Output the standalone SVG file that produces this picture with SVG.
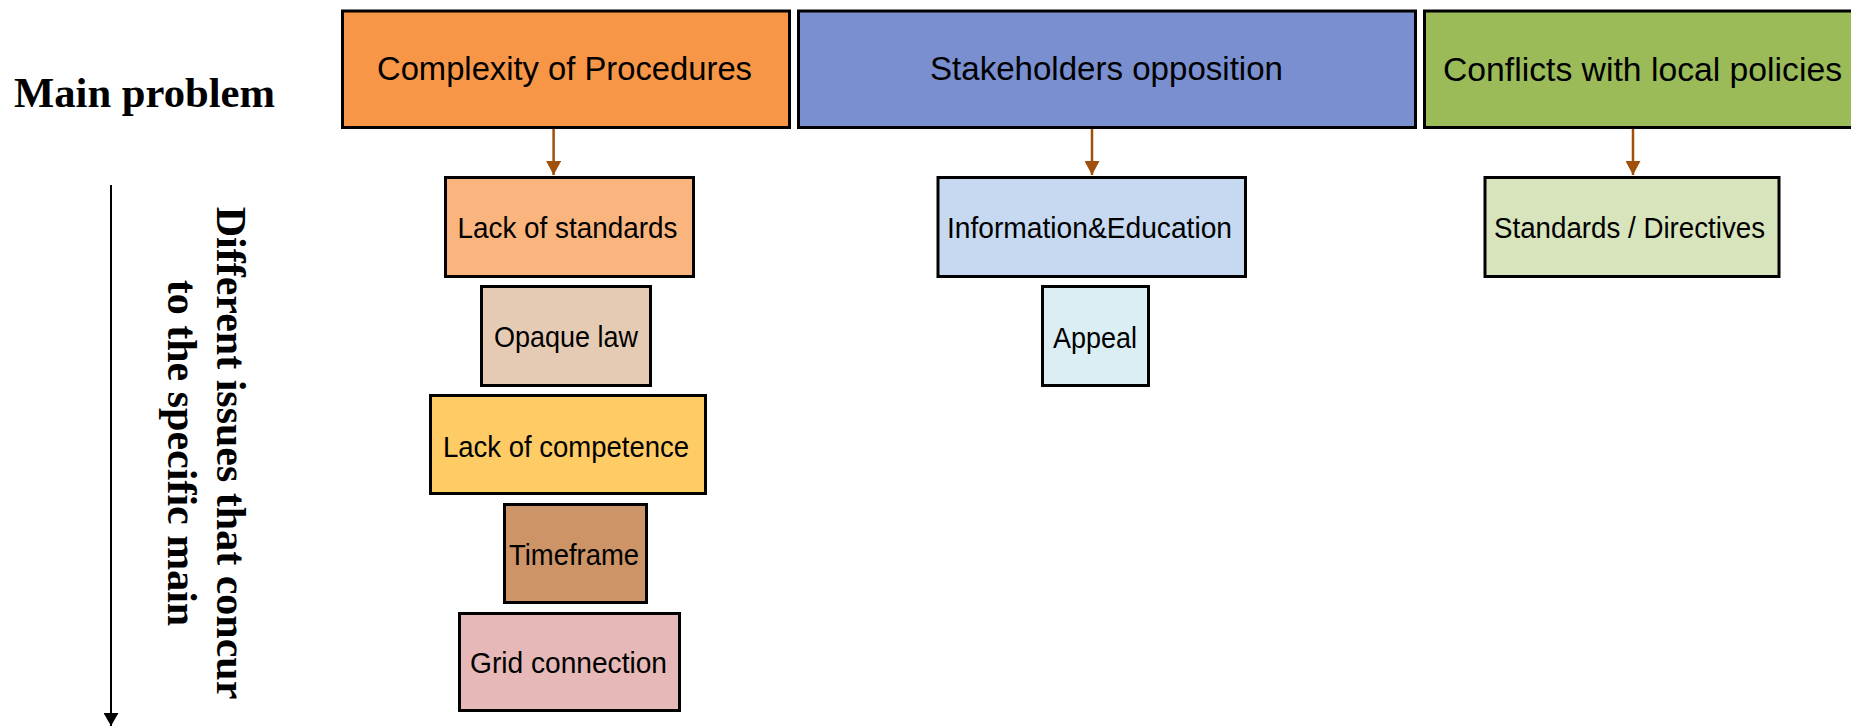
<svg xmlns="http://www.w3.org/2000/svg" width="1851" height="727" viewBox="0 0 1851 727">
<style>
.box{stroke:#000;stroke-width:3}
.h{font-family:"Liberation Sans",Arial,sans-serif;font-size:34px;fill:#000;text-anchor:middle}
.s{font-family:"Liberation Sans",Arial,sans-serif;font-size:29px;fill:#000;text-anchor:middle}
.lab{font-family:"Liberation Serif","Times New Roman",serif;font-weight:bold;font-size:42px;fill:#000}
.conn{stroke:#A0500A;stroke-width:2.5;fill:none}
</style>
<defs>
<marker id="ah" markerUnits="userSpaceOnUse" viewBox="0 0 14 15" refX="14" refY="7.5" markerWidth="14" markerHeight="15" orient="auto">
<path d="M0,0 L14,7.5 L0,15 z" fill="#A0500A"/>
</marker>
<marker id="ak" markerUnits="userSpaceOnUse" viewBox="0 0 13 15" refX="13" refY="7.5" markerWidth="13" markerHeight="15" orient="auto">
<path d="M0,0 L13,7.5 L0,15 z" fill="#000"/>
</marker>
</defs>
<rect width="1851" height="727" fill="#fff"/>

<g id="label-main">
<text class="lab" x="14" y="107" textLength="261" lengthAdjust="spacingAndGlyphs">Main problem</text>
</g>
<g id="label-issues">
<line x1="111" y1="185" x2="111" y2="726" stroke="#000" stroke-width="2" marker-end="url(#ak)"/>
<text class="lab" text-anchor="middle" transform="translate(217,453) rotate(90)">Different issues that concur</text>
<text class="lab" text-anchor="middle" transform="translate(168,453) rotate(90)">to the specific main</text>
</g>

<g id="connectors">
<line class="conn" x1="553.6" y1="129" x2="553.6" y2="175" marker-end="url(#ah)"/>
<line class="conn" x1="1092" y1="129" x2="1092" y2="175" marker-end="url(#ah)"/>
<line class="conn" x1="1633" y1="129" x2="1633" y2="175" marker-end="url(#ah)"/>
</g>

<g id="complexity">
<rect class="box" x="342.5" y="11" width="447" height="116.5" fill="#F79646"/>
<text class="h" x="564.5" y="80" textLength="375" lengthAdjust="spacingAndGlyphs">Complexity of Procedures</text>
</g>
<g id="stakeholders">
<rect class="box" x="798.5" y="11" width="617" height="116.5" fill="#7A8FD0"/>
<text class="h" x="1106.5" y="80" textLength="353" lengthAdjust="spacingAndGlyphs">Stakeholders opposition</text>
</g>
<g id="conflicts">
<rect class="box" x="1424.5" y="11" width="440" height="116.5" fill="#9BBB59"/>
<text class="h" x="1642.5" y="81" textLength="399" lengthAdjust="spacingAndGlyphs">Conflicts with local policies</text>
</g>

<g id="lack-standards">
<rect class="box" x="445.5" y="177.5" width="248" height="99" fill="#FAB47E"/>
<text class="s" x="567.5" y="238" textLength="220" lengthAdjust="spacingAndGlyphs">Lack of standards</text>
</g>
<g id="opaque-law">
<rect class="box" x="481.5" y="286.5" width="169" height="99" fill="#E6CBB4"/>
<text class="s" x="566" y="347" textLength="144" lengthAdjust="spacingAndGlyphs">Opaque law</text>
</g>
<g id="lack-competence">
<rect class="box" x="430.5" y="395.5" width="275" height="98" fill="#FECB65"/>
<text class="s" x="566" y="457" textLength="246" lengthAdjust="spacingAndGlyphs">Lack of competence</text>
</g>
<g id="timeframe">
<rect class="box" x="504.5" y="504.5" width="142" height="98" fill="#CC9467"/>
<text class="s" x="574" y="565" textLength="130" lengthAdjust="spacingAndGlyphs">Timeframe</text>
</g>
<g id="grid-connection">
<rect class="box" x="459.5" y="613.5" width="220" height="97" fill="#E6B8B7"/>
<text class="s" x="568.5" y="673" textLength="197" lengthAdjust="spacingAndGlyphs">Grid connection</text>
</g>

<g id="info-education">
<rect class="box" x="938" y="177.5" width="307.5" height="99" fill="#C6D9F0"/>
<text class="s" x="1089.5" y="238" textLength="285" lengthAdjust="spacingAndGlyphs">Information&amp;Education</text>
</g>
<g id="appeal">
<rect class="box" x="1042.5" y="286.5" width="106" height="99" fill="#DAEEF3"/>
<text class="s" x="1095" y="348" textLength="84" lengthAdjust="spacingAndGlyphs">Appeal</text>
</g>

<g id="standards-directives">
<rect class="box" x="1485" y="177.5" width="294" height="99" fill="#D8E4BC"/>
<text class="s" x="1629.5" y="238" textLength="271" lengthAdjust="spacingAndGlyphs">Standards / Directives</text>
</g>
</svg>
